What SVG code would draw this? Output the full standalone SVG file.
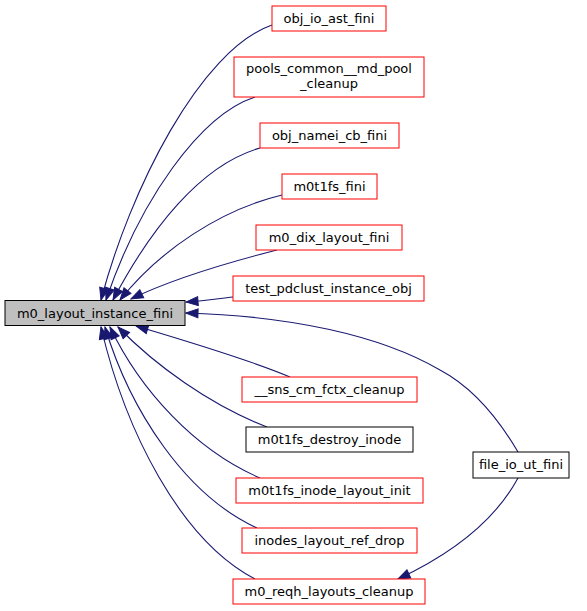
<svg xmlns="http://www.w3.org/2000/svg" width="587" height="611" viewBox="0 0 587 611">
<style>
.n rect{fill:#ffffff;stroke:#ff0000;stroke-width:1}
.n.k rect{stroke:#000000}
.n.m rect{fill:#bfbfbf;stroke:#000000}
.n text{font-family:"DejaVu Sans","Liberation Sans",sans-serif;font-size:13px;fill:#000000;text-anchor:middle}
.e path{fill:none;stroke:#191970;stroke-width:1.1;marker-end:url(#ah)}
</style>
<defs>
<marker id="ah" markerUnits="userSpaceOnUse" markerWidth="14" markerHeight="11" viewBox="-1 -1 14 11" refX="12" refY="4.5" orient="auto">
<path d="M0,0 L12,4.5 L0,9 z" fill="#191970" stroke="#191970" stroke-width="1"/>
</marker>
</defs>
<rect width="587" height="611" fill="#ffffff"/>
<g id="edges" class="e">
<path d="M272,25 C200,50 130,190 101,300"/>
<path d="M255,97 C200,115 140,200 106,300"/>
<path d="M260,148 C200,165 150,230 113,300"/>
<path d="M282,195 C220,210 160,250 120,300"/>
<path d="M277,250 C230,262 170,280 131,299"/>
<path d="M233,297 C215,299 200,301 186,302"/>
<path d="M518,452 C498,418 474,388 440,370 C380,335 290,316 186,313"/>
<path d="M290,377 C250,360 190,342 136,326"/>
<path d="M267,427 C210,405 155,365 118,327"/>
<path d="M260,478 C195,450 140,390 110,327"/>
<path d="M257,528 C185,495 130,410 105,327"/>
<path d="M255,579 C180,540 125,430 101,327"/>
<path d="M518,478 C498,515 460,550 398,579"/>
</g>
<g id="m0_layout_instance_fini" class="n m"><rect x="5" y="300.5" width="180" height="25"/><text x="95" y="317.5">m0_layout_instance_fini</text></g>
<g id="obj_io_ast_fini" class="n"><rect x="272" y="6" width="114" height="25"/><text x="329" y="23">obj_io_ast_fini</text></g>
<g id="pools_common__md_pool_cleanup" class="n"><rect x="234" y="57" width="190" height="40"/><text x="329" y="73">pools_common__md_pool</text><text x="329" y="88">_cleanup</text></g>
<g id="obj_namei_cb_fini" class="n"><rect x="260" y="123" width="139" height="25"/><text x="329.5" y="140">obj_namei_cb_fini</text></g>
<g id="m0t1fs_fini" class="n"><rect x="282" y="174" width="95" height="25"/><text x="329.5" y="191">m0t1fs_fini</text></g>
<g id="m0_dix_layout_fini" class="n"><rect x="256" y="225" width="146" height="25"/><text x="329" y="242">m0_dix_layout_fini</text></g>
<g id="test_pdclust_instance_obj" class="n"><rect x="233" y="276" width="191" height="25"/><text x="328.5" y="293">test_pdclust_instance_obj</text></g>
<g id="__sns_cm_fctx_cleanup" class="n"><rect x="242" y="377" width="175" height="25"/><text x="329.5" y="394">__sns_cm_fctx_cleanup</text></g>
<g id="m0t1fs_destroy_inode" class="n k"><rect x="246" y="427" width="167" height="25"/><text x="329.5" y="444">m0t1fs_destroy_inode</text></g>
<g id="m0t1fs_inode_layout_init" class="n"><rect x="236" y="478" width="187" height="25"/><text x="329.5" y="495">m0t1fs_inode_layout_init</text></g>
<g id="inodes_layout_ref_drop" class="n"><rect x="242" y="528" width="175" height="25"/><text x="329.5" y="545">inodes_layout_ref_drop</text></g>
<g id="m0_reqh_layouts_cleanup" class="n"><rect x="233" y="579" width="192" height="25"/><text x="329" y="596">m0_reqh_layouts_cleanup</text></g>
<g id="file_io_ut_fini" class="n k"><rect x="473" y="452" width="96" height="26"/><text x="521" y="469">file_io_ut_fini</text></g>
</svg>
